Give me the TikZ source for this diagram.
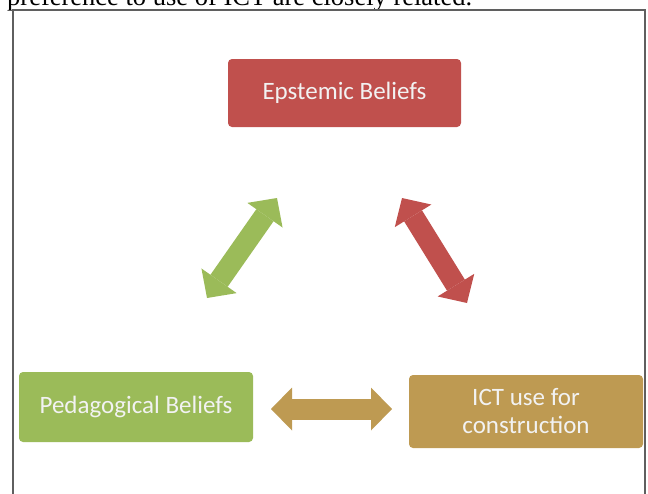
\documentclass[tikz,border=0pt]{standalone}
\usepackage{fontspec}
\setmainfont{Carlito}
\newfontfamily\runningtext{Liberation Serif}
\usetikzlibrary{arrows.meta}
\definecolor{epired}{HTML}{C0504D}
\definecolor{pedgreen}{HTML}{9BBB59}
\definecolor{icttan}{HTML}{BE9A52}
\definecolor{framegray}{HTML}{5F5F5F}

\begin{document}
\begin{tikzpicture}[x=1pt,y=-1pt,
	belief/.style={rounded corners=4pt,text=white!95!black,inner sep=0pt,align=center,
		font=\fontsize{25}{28}\selectfont,minimum width=234pt},
	link/.style={line width=21pt,
		{Triangle[length=21pt,width=43pt,line width=0pt]}-{Triangle[length=21pt,width=43pt,line width=0pt]}}]
	\useasboundingbox (0,0) rectangle (648,493);
	% line of text above the frame
	\node[anchor=base west,inner sep=0pt,font=\runningtext\fontsize{26.5}{28}\selectfont] (above)
		at (7,5) {preference to use of ICT are closely related.};
	\draw[framegray,line width=2pt] (13,500)--(13,10)--(645,10)--(645,500);
	% the three boxes
	\node[belief,fill=epired,minimum width=233pt,minimum height=68pt] (epi) at (344.5,93) {Epstemic Beliefs};
	\node[belief,fill=pedgreen,minimum height=70pt] (ped) at (136,407) {Pedagogical Beliefs};
	\node[belief,fill=icttan,minimum height=73pt] (ict) at (526,411.5) {ICT use for\\construction};
	% ends of the double arrows
	\coordinate (g1) at (277,198);
	\coordinate (g2) at (207,298);
	\coordinate (r1) at (402,198);
	\coordinate (r2) at (467,303);
	\coordinate (t1) at (271,409);
	\coordinate (t2) at (392,409);
	\draw[link,pedgreen] (g1)--(g2);
	\draw[link,epired] (r1)--(r2);
	\draw[link,icttan] (t1)--(t2);
\end{tikzpicture}
\end{document}
